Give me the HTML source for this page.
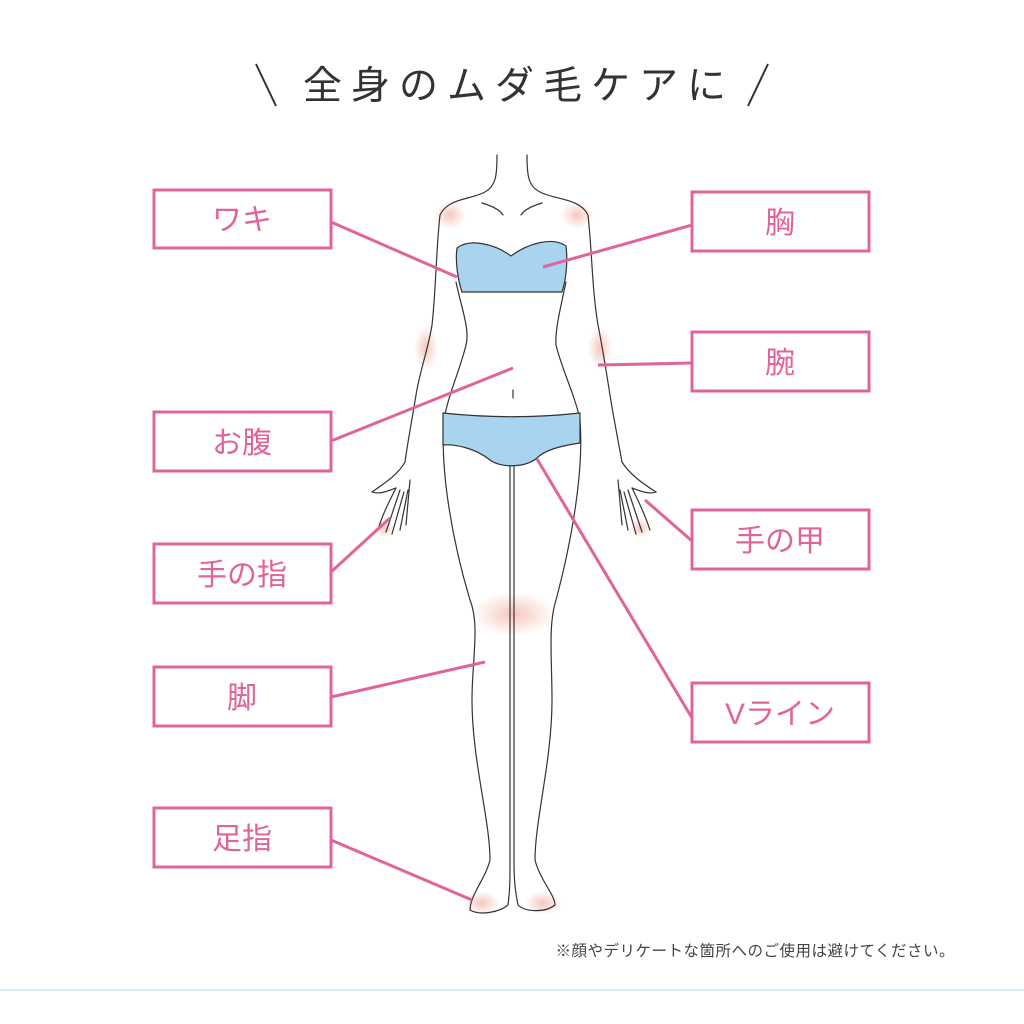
<!DOCTYPE html>
<html><head><meta charset="utf-8"><style>
html,body{margin:0;padding:0;background:#fff;}
svg{display:block;}
text{font-family:"Liberation Sans","Noto Sans CJK JP",sans-serif;}
</style></head><body>
<svg width="1024" height="1024" viewBox="0 0 1024 1024" xmlns="http://www.w3.org/2000/svg">
<defs>
<radialGradient id="g" cx="50%" cy="50%" r="50%">
<stop offset="0" stop-color="#f2b4a8" stop-opacity="0.75"/>
<stop offset="1" stop-color="#f2b4a8" stop-opacity="0"/>
</radialGradient>
</defs>
<rect width="1024" height="1024" fill="#fff"/>
<line x1="256" y1="64" x2="276" y2="106" stroke="#333" stroke-width="2"/>
<line x1="768" y1="64" x2="748" y2="106" stroke="#333" stroke-width="2"/>
<text x="519" y="99" text-anchor="middle" font-size="39" fill="#333" letter-spacing="9">全身のムダ毛ケアに</text>

<ellipse cx="450" cy="215" rx="16" ry="14" fill="url(#g)"/>
<ellipse cx="577" cy="215" rx="16" ry="14" fill="url(#g)"/>
<ellipse cx="426" cy="348" rx="12" ry="22" fill="url(#g)"/>
<ellipse cx="600" cy="348" rx="12" ry="22" fill="url(#g)"/>
<ellipse cx="514" cy="614" rx="42" ry="22" fill="url(#g)"/>
<ellipse cx="482" cy="903" rx="18" ry="12" fill="url(#g)"/>
<ellipse cx="543" cy="903" rx="18" ry="12" fill="url(#g)"/>
<ellipse cx="384" cy="528" rx="10" ry="10" fill="url(#g)"/>
<ellipse cx="640" cy="528" rx="10" ry="10" fill="url(#g)"/>

<g fill="none" stroke="#333" stroke-width="1.2" stroke-linecap="round">
<path d="M497 155 C497 175 496 186 485 192 C470 200 448 198 440 215 C436 250 436 290 432 325 C428 350 420 370 416 395 C412 420 408 440 405 462 C398 475 382 485 372 492 C380 495 390 490 396 488"/>
<path d="M527 155 C527 175 528 186 540 192 C555 200 580 198 588 215 C592 250 592 290 598 325 C603 350 606 370 610 395 C614 420 618 440 622 462 C630 475 645 485 656 492 C648 495 638 490 632 488"/>
<path d="M482 203 C492 206 500 210 503 215 M542 203 C532 206 524 210 521 215"/>
<path d="M456 282 C462 310 470 330 466 345 C460 370 448 395 444 420 C440 470 452 540 470 600 C480 625 472 660 472 700 C472 760 490 820 490 860 C485 880 470 895 470 910 C480 916 500 912 508 905 C510 890 510 880 510 860 L510 466"/>
<path d="M566 282 C560 310 555 330 556 345 C562 370 575 395 580 420 C584 470 572 540 556 600 C548 625 552 660 552 700 C552 760 535 820 535 860 C540 880 555 895 555 905 C545 913 525 912 518 905 C515 890 514 880 514 860 L514 466"/>
<path d="M513 390 L513 398"/>
<path d="M396 488 C390 500 382 515 378 530 M400 490 L386 532 M404 492 L392 534 M408 490 L400 530 M410 480 L406 525"/>
<path d="M632 488 C638 500 645 515 650 530 M628 490 L642 532 M624 492 L636 534 M620 490 L628 530 M618 480 L622 525"/>
</g>
<path d="M457 248 C470 238 495 244 511 256 C527 244 552 236 566 246 C568 262 566 280 562 292 L462 292 C458 280 455 262 457 248 Z" fill="#a9d4ef" stroke="#333" stroke-width="1.2"/>
<path d="M443 413 C490 418 535 418 580 413 L580 443 C560 446 545 450 537 458 C525 468 500 468 490 460 C475 448 455 444 443 445 Z" fill="#a9d4ef" stroke="#333" stroke-width="1.2"/>

<g stroke="#e0649a" stroke-width="3" fill="none">
<line x1="331" y1="222" x2="457" y2="277"/>
<line x1="692" y1="225" x2="543" y2="267"/>
<line x1="692" y1="363" x2="598" y2="365"/>
<line x1="331" y1="441" x2="513" y2="368"/>
<line x1="331" y1="572" x2="390" y2="518"/>
<line x1="692" y1="541" x2="645" y2="500"/>
<line x1="692" y1="718" x2="537" y2="459"/>
<line x1="331" y1="697" x2="485" y2="662"/>
<line x1="331" y1="840" x2="472" y2="900"/>
</g>
<g stroke="#e0649a" stroke-width="3" fill="#fff">
<rect x="154" y="190" width="177" height="58"/>
<rect x="154" y="412" width="177" height="59"/>
<rect x="154" y="544" width="177" height="59"/>
<rect x="154" y="667" width="177" height="59"/>
<rect x="154" y="808" width="177" height="59"/>
<rect x="692" y="192" width="177" height="59"/>
<rect x="692" y="332" width="177" height="59"/>
<rect x="692" y="510" width="177" height="59"/>
<rect x="692" y="683" width="177" height="59"/>
</g>
<g fill="#e0649a" font-size="30" text-anchor="middle">
<text x="242" y="230">ワキ</text>
<text x="242" y="453">お腹</text>
<text x="242" y="585">手の指</text>
<text x="242" y="708">脚</text>
<text x="242" y="849">足指</text>
<text x="780" y="233">胸</text>
<text x="780" y="373">腕</text>
<text x="780" y="551">手の甲</text>
<text x="780" y="724">Vライン</text>
</g>
<text x="955" y="956" text-anchor="end" font-size="15.5" fill="#444" letter-spacing="0.5">※顔やデリケートな箇所へのご使用は避けてください。</text>
<rect x="0" y="989" width="1024" height="2" fill="#dcecf6"/>
</svg>
</body></html>
